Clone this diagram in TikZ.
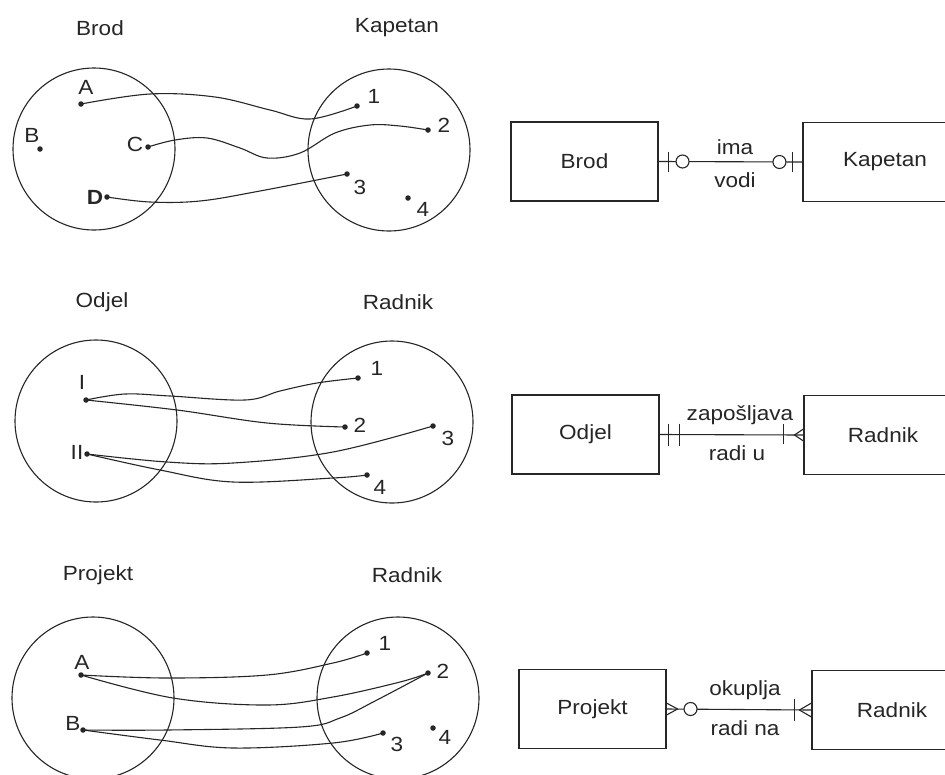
\documentclass[tikz,border=0pt]{standalone}
\usepackage{fontspec}
\setmainfont{Liberation Sans}[FakeStretch=1.1]
\begin{document}
\begin{tikzpicture}[x=1pt,y=-1pt,
  dot/.style={circle,fill=black!85,inner sep=0pt,minimum size=5.5pt},
  lbl/.style={inner sep=0pt,text=black!85,font=\fontsize{20.5}{24}\selectfont},
  setc/.style={draw=black!85,line width=1.1pt,circle,inner sep=0pt,minimum size=162pt},
  conn/.style={draw=black!85,line width=1.1pt},
  entity/.style={draw=black!85,line width=1.1pt,rectangle,inner sep=0pt,minimum height=79pt,text=black!85,font=\fontsize{20.5}{24}\selectfont},
  opt/.style={draw=black!85,line width=1.1pt,fill=white}]
\useasboundingbox (0,0) rectangle (945,774);
\clip (0,0) rectangle (945,774);
\fill[white] (0,0) rectangle (945,774);

% ================= Panel 1 =================
\node[lbl] (t1a) at (100,28) {Brod};
\node[lbl] (t1b) at (397,28) {Kapetan};
\node[setc] (s1a) at (94,149) {};
\node[setc] (s1b) at (389,150) {};
\node[dot] (p1A) at (81,104) {};
\node[dot] (p1B) at (40,149) {};
\node[dot] (p1C) at (148,147) {};
\node[dot] (p1D) at (107,197) {};
\node[dot] (p1n1) at (357,106) {};
\node[dot] (p1n2) at (428,130) {};
\node[dot] (p1n3) at (347,174) {};
\node[dot] (p1n4) at (408,198) {};
\node[lbl] (l1A) at (86,87) {A};
\node[lbl] (l1B) at (32,135) {B};
\node[lbl] (l1C) at (135,144) {C};
\node[lbl] (l1D) at (95,197) {\bfseries D};
\node[lbl] (l1n1) at (374,96) {1};
\node[lbl] (l1n2) at (444,125) {2};
\node[lbl] (l1n3) at (360,187) {3};
\node[lbl] (l1n4) at (423,209) {4};
\draw[conn] plot[smooth,tension=0.6] coordinates {(p1A) (150,94) (215,97) (270,110) (310,119) (p1n1)};
\draw[conn] plot[smooth,tension=0.6] coordinates {(p1C) (175,140) (207,138) (240,148) (267,158) (300,153) (335,133) (370,125) (400,126) (p1n2)};
\draw[conn] plot[smooth,tension=0.6] coordinates {(p1D) (150,202) (200,201) (260,191) (p1n3)};

\node[entity,minimum width=147pt] (e1a) at (584.5,161.5) {Brod};
\node[entity,minimum width=164pt] (e1b) at (885,162) {Kapetan};
\draw[conn] (e1a.east) -- (e1b.west);
\draw[conn] ([xshift=10pt]e1a.east) ++(0,-10) -- ++(0,20);
\draw[opt] ([xshift=24pt]e1a.east) circle[radius=6.5pt];
\draw[conn] ([xshift=-10pt]e1b.west) ++(0,-10) -- ++(0,20);
\draw[opt] ([xshift=-23pt]e1b.west) circle[radius=6.5pt];
\node[lbl] (r1a) at (735,147) {ima};
\node[lbl] (r1b) at (735,180) {vodi};

% ================= Panel 2 =================
\node[lbl] (t2a) at (102,302) {Odjel};
\node[lbl] (t2b) at (398,302) {Radnik};
\node[setc] (s2a) at (96,421) {};
\node[setc] (s2b) at (392,422) {};
\node[dot] (p2I) at (86,400) {};
\node[dot] (p2II) at (87,454) {};
\node[dot] (p2n1) at (358,378) {};
\node[dot] (p2n2) at (345,427) {};
\node[dot] (p2n3) at (433,426) {};
\node[dot] (p2n4) at (367,475) {};
\node[lbl] (l2I) at (82,382) {I};
\node[lbl] (l2II) at (77,452) {II};
\node[lbl] (l2n1) at (377,368) {1};
\node[lbl] (l2n2) at (360,425) {2};
\node[lbl] (l2n3) at (448,438) {3};
\node[lbl] (l2n4) at (380,487) {4};
\draw[conn] plot[smooth,tension=0.6] coordinates {(p2I) (125,394) (170,396) (245,400) (280,391) (317,383) (p2n1)};
\draw[conn] plot[smooth,tension=0.6] coordinates {(p2I) (177,410) (267,423) (p2n2)};
\draw[conn] plot[smooth,tension=0.6] coordinates {(p2II) (167,462) (233,463) (333,452) (p2n3)};
\draw[conn] plot[smooth,tension=0.6] coordinates {(p2II) (160,470) (233,482) (333,478) (p2n4)};

\node[entity,minimum width=147pt] (e2a) at (585.5,434.5) {Odjel};
\node[entity,minimum width=158pt] (e2b) at (883,435) {Radnik};
\draw[conn] (e2a.east) -- (e2b.west);
\draw[conn] ([xshift=9pt]e2a.east) ++(0,-11) -- ++(0,22);
\draw[conn] ([xshift=20pt]e2a.east) ++(0,-11) -- ++(0,22);
\draw[conn] ([xshift=-20pt]e2b.west) ++(0,-11) -- ++(0,20);
\draw[conn] ([yshift=6pt]e2b.west) -- ([xshift=-9pt]e2b.west) -- ([yshift=-6pt]e2b.west);
\node[lbl] (r2a) at (740,415) {zapošljava};
\node[lbl] (r2b) at (737,453) {radi u};

% ================= Panel 3 =================
\node[lbl] (t3a) at (98,575) {Projekt};
\node[lbl] (t3b) at (407,575) {Radnik};
\node[setc] (s3a) at (93,698) {};
\node[setc] (s3b) at (398,698) {};
\node[dot] (p3A) at (81,675) {};
\node[dot] (p3B) at (83,730) {};
\node[dot] (p3n1) at (367,653) {};
\node[dot] (p3n2) at (428,673) {};
\node[dot] (p3n3) at (383,733) {};
\node[dot] (p3n4) at (433,728) {};
\node[lbl] (l3A) at (82,662) {A};
\node[lbl] (l3B) at (73,723) {B};
\node[lbl] (l3n1) at (385,643) {1};
\node[lbl] (l3n2) at (443,671) {2};
\node[lbl] (l3n3) at (397,744) {3};
\node[lbl] (l3n4) at (445,737) {4};
\draw[conn] plot[smooth,tension=0.6] coordinates {(p3A) (167,678) (267,675) (333,663) (p3n1)};
\draw[conn] plot[smooth,tension=0.6] coordinates {(p3A) (173,698) (267,705) (333,697) (400,682) (p3n2)};
\draw[conn] plot[smooth,tension=0.6] coordinates {(p3B) (167,730) (300,727) (340,718) (375,701) (p3n2)};
\draw[conn] plot[smooth,tension=0.6] coordinates {(p3B) (160,740) (233,748) (333,743) (p3n3)};

\node[entity,minimum width=147pt] (e3a) at (592.5,709) {Projekt};
\node[entity,minimum width=160pt] (e3b) at (892,710) {Radnik};
\draw[conn] (e3a.east) -- (e3b.west);
\draw[conn] ([yshift=6pt]e3a.east) -- ([xshift=11pt]e3a.east) -- ([yshift=-6pt]e3a.east);
\draw[opt] ([xshift=24pt]e3a.east) circle[radius=6.5pt];
\draw[conn] ([xshift=-17pt]e3b.west) ++(0,-11) -- ++(0,22);
\draw[conn] ([yshift=7pt]e3b.west) -- ([xshift=-12pt]e3b.west) -- ([yshift=-7pt]e3b.west);
\node[lbl] (r3a) at (745,690) {okuplja};
\node[lbl] (r3b) at (745,728) {radi na};
\end{tikzpicture}
\end{document}
